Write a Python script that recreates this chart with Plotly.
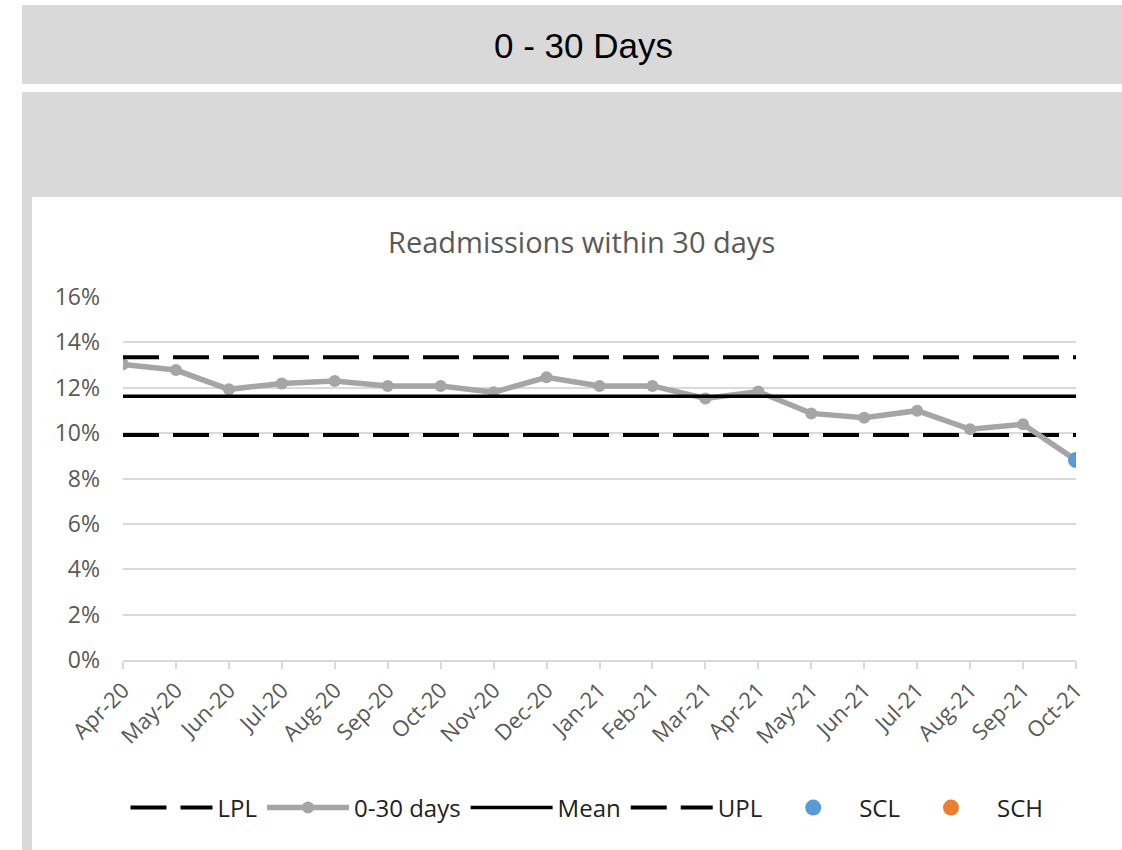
import plotly.graph_objects as go

months = ["Apr-20", "May-20", "Jun-20", "Jul-20", "Aug-20", "Sep-20", "Oct-20",
          "Nov-20", "Dec-20", "Jan-21", "Feb-21", "Mar-21", "Apr-21", "May-21",
          "Jun-21", "Jul-21", "Aug-21", "Sep-21", "Oct-21"]
readmit = [13.03, 12.78, 11.93, 12.19, 12.30, 12.08, 12.08, 11.80, 12.46, 12.08,
           12.08, 11.53, 11.83, 10.87, 10.68, 10.99, 10.17, 10.39, 8.81]
mean_val = 11.63
upl_val = 13.34
lpl_val = 9.92
scl = [None] * 18 + [8.81]
sch = [None] * 19

W, H = 1122, 850
L, R, T, B = 123, 46, 297, 190
PW, PH = W - L - R, H - T - B


def px(x):
    return (x - L) / PW


def py(y):
    return 1 - (y - T) / PH


FONT = "Open Sans, Lato, sans-serif"

fig = go.Figure()

fig.add_trace(go.Scatter(x=months, y=[lpl_val] * len(months), name="LPL", mode="lines",
                         line=dict(color="black", width=4, dash="36px,14px")))
fig.add_trace(go.Scatter(x=months, y=readmit, name="0-30 days", mode="lines+markers",
                         line=dict(color="#a5a5a5", width=5.5),
                         marker=dict(color="#a5a5a5", size=12)))
fig.add_trace(go.Scatter(x=months, y=[mean_val] * len(months), name="Mean", mode="lines",
                         line=dict(color="black", width=3.5)))
fig.add_trace(go.Scatter(x=months, y=[upl_val] * len(months), name="UPL", mode="lines",
                         line=dict(color="black", width=4, dash="36px,14px")))
fig.add_trace(go.Scatter(x=months, y=scl, name="SCL", mode="markers",
                         marker=dict(color="#5b9bd5", size=16)))
fig.add_trace(go.Scatter(x=months, y=sch, name="SCH", mode="markers",
                         marker=dict(color="#ed7d31", size=16)))

shapes = [
    dict(x0=px(22), x1=px(1122), y0=py(84), y1=py(5)),
    dict(x0=px(22), x1=px(1122), y0=py(197), y1=py(92)),
    dict(x0=px(22), x1=px(32), y0=py(850), y1=py(197)),
]
for s in shapes:
    s.update(type="rect", xref="paper", yref="paper", fillcolor="#d9d9d9",
             line=dict(width=0), layer="below")

fig.update_layout(
    width=W, height=H,
    margin=dict(l=L, r=R, t=T, b=B),
    paper_bgcolor="white", plot_bgcolor="white",
    shapes=shapes,
    showlegend=True,
    legend=dict(orientation="h", x=px(587), xanchor="center", y=py(808), yanchor="middle",
                font=dict(family=FONT, size=24, color="#222222"), itemwidth=82,
                traceorder="normal", bgcolor="rgba(0,0,0,0)"),
    annotations=[
        dict(text="0 - 30 Days", x=px(583), y=py(45), xref="paper", yref="paper",
             xanchor="center", yanchor="middle",
             showarrow=False, font=dict(family="Liberation Sans, Arial", size=35, color="black")),
        dict(text="Readmissions within 30 days", x=px(581), y=py(242), xref="paper", yref="paper",
             xanchor="center", yanchor="middle",
             showarrow=False, font=dict(family=FONT, size=29, color="#595959")),
    ],
)

fig.update_xaxes(range=[0, 18], showgrid=False, showline=True, linecolor="#d9d9d9", linewidth=1.5,
                 ticks="outside", tickcolor="#d9d9d9", ticklen=7, tickwidth=1.5,
                 tickangle=-45, tickfont=dict(family=FONT, size=22, color="#595959"),
                 fixedrange=True)
fig.update_yaxes(range=[0, 16], dtick=2, ticksuffix="%", showgrid=True, gridcolor="#d9d9d9",
                 gridwidth=1.5, zeroline=False, showline=False, ticks="",
                 ticklabelstandoff=22,
                 tickfont=dict(family=FONT, size=23, color="#595959"), fixedrange=True)

fig.write_html("out.html", config={"displayModeBar": False},
               post_script="document.body.style.margin='0px';")
